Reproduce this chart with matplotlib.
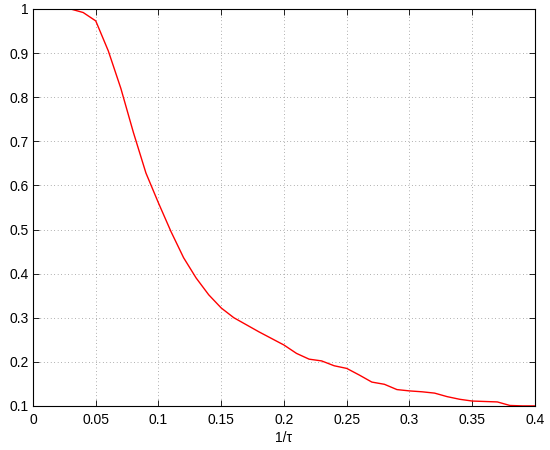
import matplotlib.pyplot as plt
import numpy as np

# curve
inv_tau = [0.03, 0.04, 0.05, 0.06, 0.07, 0.08, 0.09, 0.10, 0.11, 0.12,
           0.13, 0.14, 0.15, 0.16, 0.17, 0.18, 0.19, 0.20, 0.21, 0.22,
           0.23, 0.24, 0.25, 0.26, 0.27, 0.28, 0.29, 0.30, 0.31, 0.32,
           0.33, 0.34, 0.35, 0.36, 0.37, 0.38, 0.39, 0.40]
value = [1.0, 0.992, 0.973, 0.905, 0.82, 0.72, 0.628, 0.56, 0.495, 0.436,
         0.39, 0.352, 0.322, 0.30, 0.284, 0.268, 0.253, 0.238, 0.219, 0.206,
         0.202, 0.191, 0.185, 0.170, 0.154, 0.149, 0.137, 0.134, 0.132, 0.129,
         0.121, 0.115, 0.111, 0.110, 0.109, 0.101, 0.10, 0.10]

xticks = [0, 0.05, 0.1, 0.15, 0.2, 0.25, 0.3, 0.35, 0.4]
xtick_labels = ['0', '0.05', '0.1', '0.15', '0.2', '0.25', '0.3', '0.35', '0.4']
yticks = [0.1, 0.2, 0.3, 0.4, 0.5, 0.6, 0.7, 0.8, 0.9, 1]
ytick_labels = ['0.1', '0.2', '0.3', '0.4', '0.5', '0.6', '0.7', '0.8', '0.9', '1']

plt.rcParams['font.family'] = ['Liberation Sans', 'DejaVu Sans']

fig = plt.figure(figsize=(5.5, 4.5), dpi=100)
ax = fig.add_axes([0.06, 0.098, 0.9127, 0.882])

ax.plot(inv_tau, value, color='red', linewidth=1.0)

ax.set_xlim(0, 0.4)
ax.set_ylim(0.1, 1)
ax.set_xticks(xticks)
ax.set_xticklabels(xtick_labels)
ax.set_yticks(yticks)
ax.set_yticklabels(ytick_labels)
ax.tick_params(direction='in', top=True, right=True, length=4, width=0.6,
               labelsize=10)
ax.tick_params(axis='x', pad=5)
ax.tick_params(axis='y', pad=3)
ax.grid(True, linestyle=(0, (1, 4)), color='#666666', linewidth=0.5)
for s in ax.spines.values():
    s.set_linewidth(0.8)

ax.set_xlabel('1/τ', fontsize=10, labelpad=3)

fig.savefig('out.png', dpi=100)
